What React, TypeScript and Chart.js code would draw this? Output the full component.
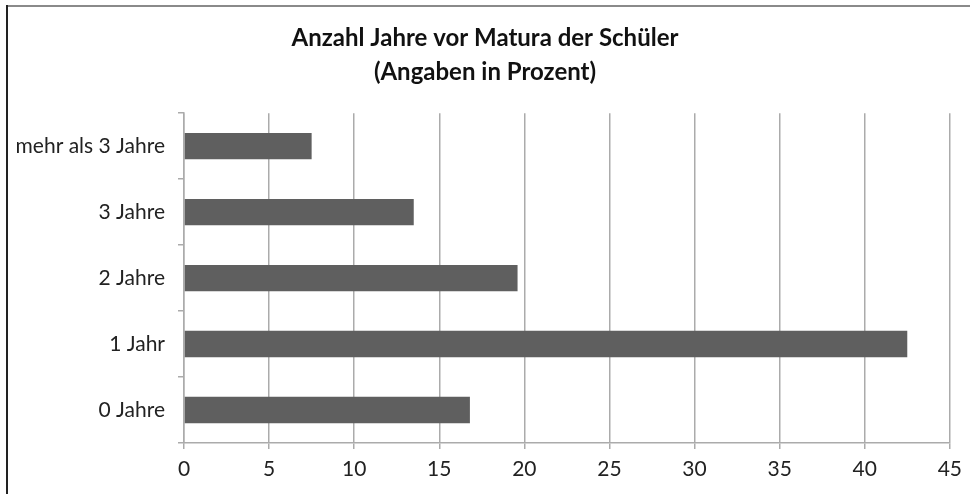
import React, { useEffect, useRef } from "react";
import { Chart, registerables } from "chart.js";

Chart.register(...registerables);

const categories = ["mehr als 3 Jahre", "3 Jahre", "2 Jahre", "1 Jahr", "0 Jahre"];
const values = [7.5, 13.5, 19.6, 42.5, 16.8];
const titleLines = ["Anzahl Jahre vor Matura der Schüler", "(Angaben in Prozent)"];
const xMin = 0;
const xMax = 45;
const xStep = 5;

const FONT = "Lato, 'Open Sans', sans-serif";
const GRID = "#ababab";

export default function App() {
  const ref = useRef<HTMLCanvasElement | null>(null);

  useEffect(() => {
    document.body.style.margin = "0";
    const canvas = ref.current;
    if (!canvas) return;
    const chart = new Chart(canvas, {
      type: "bar",
      data: {
        labels: categories,
        datasets: [
          {
            data: values,
            backgroundColor: "#5f5f5f",
            borderWidth: 0,
            barPercentage: 0.4,
            categoryPercentage: 1,
          },
        ],
      },
      options: {
        indexAxis: "y",
        responsive: false,
        animation: false,
        layout: { padding: { left: 17, right: 17, top: 0, bottom: 0 } },
        plugins: {
          legend: { display: false },
          tooltip: { enabled: false },
          title: {
            display: true,
            text: titleLines,
            color: "#111",
            font: { family: FONT, size: 24, weight: "bold", lineHeight: 1.42 },
            padding: { top: 21, bottom: 24 },
          },
        },
        scales: {
          x: {
            min: xMin,
            max: xMax,
            ticks: {
              stepSize: xStep,
              color: "#222",
              font: { family: FONT, size: 21 },
              padding: 8,
            },
            grid: { color: GRID, lineWidth: 1.5, tickLength: 6, drawTicks: true },
            border: { color: GRID, width: 1.5 },
            afterFit: (s: any) => {
              s.height = 51;
            },
          },
          y: {
            ticks: {
              color: "#222",
              font: { family: FONT, size: 21 },
              padding: 13,
            },
            grid: { drawOnChartArea: false, color: GRID, lineWidth: 1.5, tickLength: 6, offset: true },
            border: { color: GRID, width: 1.5 },
            afterFit: (s: any) => {
              s.width = 167;
            },
          },
        },
      },
    });
    return () => chart.destroy();
  }, []);

  return (
    <div style={{ position: "relative", width: 970, height: 494, background: "#fff", overflow: "hidden" }}>
      <canvas ref={ref} width={970} height={494} style={{ position: "absolute", left: 0, top: 0 }} />
      <div style={{ position: "absolute", left: 6, top: 5, width: 964, height: 2, background: "#8a8a8a" }} />
      <div style={{ position: "absolute", left: 6, top: 5, width: 2, height: 489, background: "#222" }} />
    </div>
  );
}
